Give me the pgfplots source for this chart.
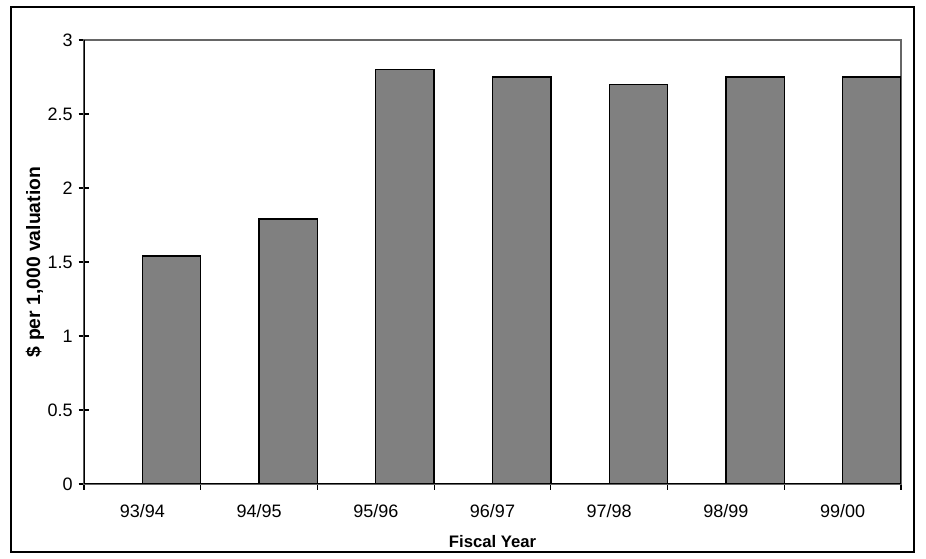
\documentclass[border=0pt]{standalone}
\usepackage{pgfplots}
\pgfplotsset{compat=1.18}
\usepackage{fontspec}
\setmainfont{Liberation Sans}

\begin{document}
\begin{tikzpicture}
\begin{axis}[
  scale only axis,
  width=612.75pt, height=333pt,
  xmin=-0.5, xmax=6.5,
  ymin=0, ymax=3,
  ytick={0,0.5,...,3},
  xtick={0,...,6},
  xticklabels={93/94,94/95,95/96,96/97,97/98,98/99,99/00},
  minor xtick={-0.5,0.5,...,6.5},
  tick pos=left,
  major x tick style={draw=none},
  xtick align=outside, ytick align=center,
  major tick length=8pt, minor tick length=4.5pt,
  tick style={black, line width=0.8pt},
  axis line style={black!60, line width=0.8pt},
  /pgf/number format/assume math mode=true,
  ticklabel style={font=\fontsize{13.5}{15}\selectfont},
  xticklabel style={yshift=-4pt},
  yticklabel style={xshift=-1pt},
  xlabel={Fiscal Year},
  ylabel={\$ per 1,000 valuation},
  xlabel style={font=\fontsize{12.5}{14}\selectfont\bfseries,
    at={([yshift=-43pt]axis description cs:0.5,0)}, anchor=center},
  ylabel style={font=\fontsize{14.5}{16}\selectfont\bfseries,
    at={([xshift=-36.75pt]axis description cs:0,0.5)}, anchor=center},
]
\addplot[ybar, bar width=0.5, bar shift=0.25, draw=black, line width=1pt, fill=black!50]
  coordinates {(0,1.54) (1,1.79) (2,2.80) (3,2.75) (4,2.70) (5,2.75) (6,2.75)};
\draw[black, line width=1.3pt] (rel axis cs:0,1) -- (rel axis cs:0,0) -- (rel axis cs:1,0);
\end{axis}
\draw[line width=1.5pt] ([xshift=-54.75pt, yshift=-51pt]current axis.south west)
  rectangle ([xshift=622.5pt, yshift=357.75pt]current axis.south west);
\path ([xshift=-63pt, yshift=-56.25pt]current axis.south west)
  rectangle ([xshift=631.5pt, yshift=363pt]current axis.south west);
\end{tikzpicture}
\end{document}
